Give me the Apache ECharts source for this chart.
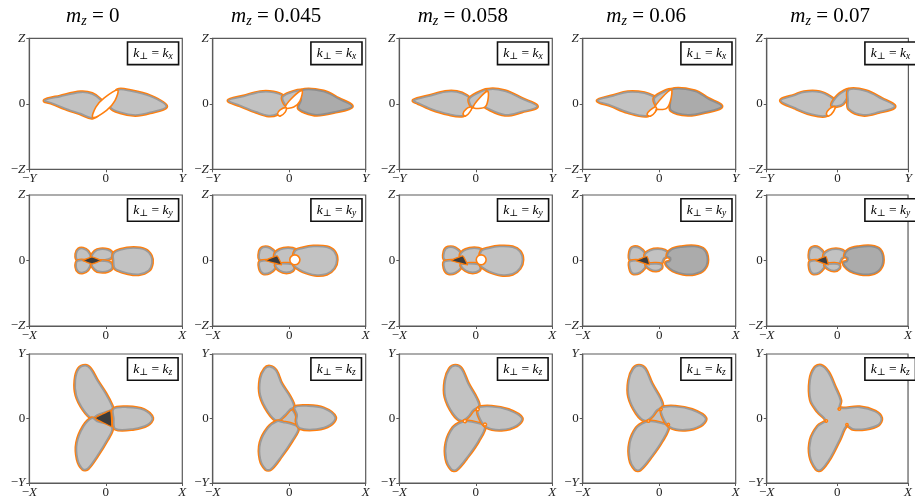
<!DOCTYPE html>
<html><head><meta charset="utf-8">
<script src="https://cdn.jsdelivr.net/npm/echarts@6/dist/echarts.min.js"></script>
<style>html,body{margin:0;padding:0;background:#fff}#chart{width:915px;height:499px}</style>
</head><body><div id="chart"></div>
<script>
// Column headers (m_z values) and axis tick labels per row
const mzValues = ['0', '0.045', '0.058', '0.06', '0.07'];
const kperp = ['x', 'y', 'z'];
const xTickLabels = [['−Y', '0', 'Y'], ['−X', '0', 'X'], ['−X', '0', 'X']];
const yTickLabels = [['−Z', '0', 'Z'], ['−Z', '0', 'Z'], ['−Y', '0', 'Y']];

// Regions in normalised axis units: [kind, outline points]
// kinds: lobe (light gray), deep (darker gray), hole (empty), dark (nearly black)
const kx_0 = [
  ['lobe', [[-0.80,0.05],[-0.60,0.11],[-0.33,0.175],[-0.18,0.15],[-0.07,0.06],[-0.02,-0.04],[-0.17,-0.21],[-0.33,-0.15],[-0.53,-0.07],[-0.70,0.01]]],
  ['lobe', [[0.155,0.21],[0.32,0.195],[0.58,0.115],[0.79,-0.04],[0.58,-0.13],[0.385,-0.17],[0.19,-0.13],[0.06,-0.05],[0.10,0.08]]],
  ['hole', [[-0.17,-0.21],[-0.13,-0.05],[-0.02,0.09],[0.155,0.21],[0.12,0.05],[0.01,-0.10]]]
];
const kx_045 = [
  ['lobe', [[-0.793,0.051],[-0.597,0.112],[-0.379,0.178],[-0.205,0.173],[-0.074,0.112],[-0.022,0],[-0.039,-0.051],[-0.153,-0.153],[-0.27,-0.178],[-0.423,-0.127],[-0.641,-0.025]]],
  ['lobe', [[-0.08,0.11],[0.166,0.20],[-0.03,-0.02]]],
  ['deep', [[0.166,0.204],[0.449,0.188],[0.645,0.076],[0.819,-0.041],[0.58,-0.127],[0.362,-0.168],[0.209,-0.127],[0.122,-0.061],[0.157,0.051]]],
  ['hole', [[-0.05,-0.06],[0.03,0.08],[0.166,0.20],[0.14,0.04],[0.06,-0.05]]],
  ['hole', [[-0.153,-0.153],[-0.118,-0.092],[-0.039,-0.061],[-0.052,-0.127],[-0.118,-0.188]]]
];
const kx_058 = [
  ['lobe', [[-0.813,0.05],[-0.60,0.12],[-0.40,0.18],[-0.25,0.18],[-0.12,0.12],[-0.04,0.02],[-0.07,-0.07],[-0.167,-0.178],[-0.365,-0.153],[-0.585,-0.076],[-0.76,0.015]]],
  ['lobe', [[-0.08,0.08],[0.163,0.214],[-0.04,-0.04]]],
  ['lobe', [[0.163,0.214],[0.382,0.193],[0.602,0.076],[0.80,-0.041],[0.602,-0.117],[0.382,-0.168],[0.141,-0.061],[0.119,-0.025],[0.141,0.102]]],
  ['hole', [[-0.035,-0.051],[0.154,0.193],[0.127,-0.041]]],
  ['hole', [[-0.167,-0.153],[-0.123,-0.076],[-0.057,-0.051],[-0.079,-0.127],[-0.136,-0.188]]]
];
const kx_06 = [
  ['lobe', [[-0.805,0.05],[-0.60,0.12],[-0.411,0.178],[-0.193,0.163],[-0.061,0.102],[0.004,0.05],[-0.018,-0.041],[-0.149,-0.178],[-0.411,-0.127],[-0.63,-0.025]]],
  ['lobe', [[-0.06,0.09],[0.158,0.214],[-0.02,-0.03]]],
  ['deep', [[0.158,0.214],[0.464,0.193],[0.639,0.076],[0.814,-0.041],[0.595,-0.127],[0.376,-0.168],[0.158,-0.102],[0.149,0.051]]],
  ['hole', [[-0.06,-0.061],[0.158,0.214],[0.105,-0.061]]],
  ['hole', [[-0.158,-0.163],[-0.114,-0.092],[-0.039,-0.051],[-0.053,-0.127],[-0.114,-0.188]]]
];
const kx_07 = [
  ['lobe', [[-0.80,0.05],[-0.60,0.13],[-0.473,0.178],[-0.254,0.178],[-0.101,0.102],[-0.035,0.025],[-0.079,-0.041],[-0.158,-0.178],[-0.385,-0.153],[-0.604,-0.061]]],
  ['lobe', [[-0.079,-0.025],[0.009,0.127],[0.162,0.214],[0.074,0]]],
  ['lobe', [[0.162,0.214],[0.403,0.193],[0.621,0.076],[0.805,-0.041],[0.578,-0.127],[0.359,-0.168],[0.162,-0.076],[0.149,0.05]]],
  ['hole', [[-0.158,-0.153],[-0.114,-0.076],[-0.035,-0.041],[-0.057,-0.117],[-0.123,-0.188]]]
];

const ky_0 = [
  ['lobe', [[-0.368,0.01],[-0.386,0.10],[-0.355,0.17],[-0.298,0.18],[-0.237,0.14],[-0.203,0.05],[-0.237,0.01]]],
  ['lobe', [[-0.181,0.05],[-0.137,0.14],[-0.072,0.17],[0.024,0.16],[0.081,0.11],[0.059,0.035],[-0.028,0.01],[-0.115,0.01]]],
  ['lobe', [[-0.368,-0.01],[-0.386,-0.10],[-0.355,-0.17],[-0.298,-0.18],[-0.237,-0.14],[-0.203,-0.05],[-0.237,-0.01]]],
  ['lobe', [[-0.181,-0.05],[-0.137,-0.14],[-0.072,-0.17],[0.024,-0.16],[0.081,-0.11],[0.059,-0.035],[-0.028,-0.01],[-0.115,-0.01]]],
  ['lobe', [[0.102,0.10],[0.19,0.16],[0.364,0.19],[0.516,0.16],[0.59,0.07],[0.603,-0.04],[0.56,-0.15],[0.43,-0.21],[0.277,-0.19],[0.146,-0.14],[0.111,-0.10],[0.102,0]]],
  ['dark', [[-0.30,0],[-0.181,0.055],[-0.06,0],[-0.181,-0.05]]]
];
const ky_045 = [
  ['lobe', [[-0.376,0.01],[-0.385,0.137],[-0.341,0.198],[-0.254,0.187],[-0.175,0.101],[-0.158,0.02]]],
  ['lobe', [[-0.188,0.086],[-0.123,0.162],[-0.013,0.187],[0.088,0.162],[0.14,0.086],[0.074,0.01],[0.009,-0.051],[-0.079,-0.041],[-0.158,-0.015]]],
  ['lobe', [[-0.376,-0.015],[-0.385,-0.117],[-0.341,-0.193],[-0.254,-0.182],[-0.175,-0.101],[-0.158,-0.03]]],
  ['lobe', [[-0.175,-0.066],[-0.123,-0.152],[-0.035,-0.182],[0.044,-0.152],[0.061,-0.081],[-0.013,-0.051]]],
  ['lobe', [[0.074,0.137],[0.184,0.187],[0.315,0.213],[0.49,0.203],[0.586,0.137],[0.621,0.01],[0.586,-0.117],[0.49,-0.203],[0.337,-0.218],[0.184,-0.167],[0.088,-0.101],[0.061,-0.066]]],
  ['hole', [[0.14,0.01],[0.12,0.064],[0.074,0.086],[0.027,0.064],[0.008,0.01],[0.027,-0.044],[0.074,-0.066],[0.12,-0.044]]],
  ['dark', [[-0.306,0],[-0.158,0.071],[-0.101,-0.066]]]
];
const ky_058 = [
  ['lobe', [[-0.40,0.01],[-0.41,0.137],[-0.36,0.198],[-0.27,0.187],[-0.19,0.101],[-0.17,0.02]]],
  ['lobe', [[-0.20,0.086],[-0.13,0.162],[-0.02,0.187],[0.08,0.162],[0.13,0.086],[0.07,0.01],[0.005,-0.051],[-0.085,-0.041],[-0.17,-0.015]]],
  ['lobe', [[-0.40,-0.015],[-0.41,-0.117],[-0.36,-0.193],[-0.27,-0.182],[-0.19,-0.101],[-0.17,-0.03]]],
  ['lobe', [[-0.19,-0.066],[-0.13,-0.152],[-0.04,-0.182],[0.04,-0.152],[0.055,-0.081],[-0.02,-0.051]]],
  ['lobe', [[0.07,0.137],[0.18,0.187],[0.31,0.213],[0.48,0.203],[0.575,0.137],[0.61,0.01],[0.575,-0.117],[0.48,-0.203],[0.33,-0.218],[0.18,-0.167],[0.085,-0.101],[0.06,-0.066]]],
  ['hole', [[0.135,0.01],[0.115,0.064],[0.07,0.086],[0.025,0.064],[0.006,0.01],[0.025,-0.044],[0.07,-0.066],[0.115,-0.044]]],
  ['dark', [[-0.32,0],[-0.17,0.071],[-0.11,-0.066]]]
];
const ky_06 = [
  ['lobe', [[-0.376,0.01],[-0.381,0.137],[-0.346,0.198],[-0.258,0.187],[-0.184,0.101],[-0.158,0.02]]],
  ['lobe', [[-0.184,0.086],[-0.114,0.152],[-0.018,0.172],[0.07,0.152],[0.123,0.086],[0.061,0.035],[0.026,-0.041],[-0.061,-0.051],[-0.158,-0.015]]],
  ['lobe', [[-0.376,-0.015],[-0.381,-0.117],[-0.346,-0.193],[-0.258,-0.182],[-0.184,-0.101],[-0.158,-0.03]]],
  ['lobe', [[-0.171,-0.066],[-0.114,-0.132],[-0.039,-0.152],[0.026,-0.117],[0.026,-0.066],[-0.039,-0.051]]],
  ['deep', [[0.105,0.071],[0.158,0.162],[0.289,0.203],[0.464,0.213],[0.586,0.162],[0.63,0.01],[0.586,-0.132],[0.464,-0.203],[0.311,-0.203],[0.179,-0.152],[0.105,-0.081],[0.092,-0.03],[0.136,-0.015],[0.149,0.04]]],
  ['dark', [[-0.302,0],[-0.158,0.061],[-0.127,-0.066]]]
];
const ky_07 = [
  ['lobe', [[-0.38,0.01],[-0.39,0.137],[-0.35,0.198],[-0.262,0.187],[-0.188,0.101],[-0.16,0.02]]],
  ['lobe', [[-0.188,0.086],[-0.118,0.152],[-0.02,0.172],[0.068,0.152],[0.12,0.086],[0.06,0.035],[0.024,-0.041],[-0.063,-0.051],[-0.16,-0.015]]],
  ['lobe', [[-0.38,-0.015],[-0.39,-0.117],[-0.35,-0.193],[-0.262,-0.182],[-0.188,-0.101],[-0.16,-0.03]]],
  ['lobe', [[-0.175,-0.066],[-0.118,-0.132],[-0.04,-0.152],[0.024,-0.117],[0.024,-0.066],[-0.04,-0.051]]],
  ['deep', [[0.105,0.071],[0.16,0.162],[0.3,0.203],[0.48,0.213],[0.6,0.162],[0.645,0.01],[0.6,-0.132],[0.48,-0.203],[0.32,-0.203],[0.18,-0.152],[0.105,-0.081],[0.092,-0.03],[0.136,-0.015],[0.149,0.04]]],
  ['dark', [[-0.305,0],[-0.16,0.061],[-0.13,-0.066]]]
];

const kz_0 = [
  ['lobe', [[-0.179,0.005],[-0.289,0.132],[-0.385,0.361],[-0.398,0.59],[-0.354,0.768],[-0.267,0.819],[-0.201,0.768],[-0.114,0.59],[-0.004,0.387],[0.074,0.209],[0.083,0.148],[-0.114,0.056]]],
  ['lobe', [[-0.179,0.005],[-0.289,-0.122],[-0.376,-0.377],[-0.368,-0.631],[-0.298,-0.784],[-0.236,-0.774],[-0.114,-0.58],[0.018,-0.326],[0.083,-0.163],[0.039,-0.097],[-0.114,-0.046]]],
  ['lobe', [[0.105,0.148],[0.28,0.173],[0.499,0.132],[0.608,0.005],[0.543,-0.097],[0.368,-0.158],[0.127,-0.158],[0.105,0.005]]],
  ['dark', [[-0.136,0.005],[0.061,0.122],[0.074,-0.122]]]
];
const kz_045 = [
  ['lobe', [[-0.123,-0.01],[0.031,0.132],[0.096,-0.097]]],
  ['lobe', [[-0.158,-0.031],[-0.276,0.107],[-0.376,0.361],[-0.376,0.616],[-0.319,0.768],[-0.254,0.804],[-0.175,0.743],[-0.101,0.539],[0.009,0.336],[0.061,0.183],[0.009,0.142],[-0.057,0.056]]],
  ['lobe', [[-0.158,-0.046],[-0.276,-0.148],[-0.376,-0.377],[-0.376,-0.631],[-0.306,-0.784],[-0.241,-0.784],[-0.101,-0.58],[0.031,-0.351],[0.118,-0.148],[0.009,-0.081],[-0.079,-0.061]]],
  ['lobe', [[0.074,0.173],[0.228,0.193],[0.446,0.158],[0.6,0.02],[0.534,-0.097],[0.359,-0.163],[0.14,-0.148],[0.096,-0.046],[0.105,0.056]]]
];
const kz_058 = [
  ['lobe', [[-0.144,-0.02],[0.022,0.142],[0.118,-0.097]]],
  ['lobe', [[-0.188,-0.031],[-0.298,0.081],[-0.398,0.336],[-0.398,0.59],[-0.341,0.768],[-0.267,0.819],[-0.188,0.768],[-0.101,0.539],[0.009,0.31],[0.039,0.193],[-0.035,0.132],[-0.101,0.031]]],
  ['lobe', [[-0.188,-0.061],[-0.298,-0.148],[-0.385,-0.377],[-0.385,-0.631],[-0.319,-0.784],[-0.254,-0.794],[-0.101,-0.58],[0.031,-0.351],[0.118,-0.122],[0.009,-0.071],[-0.101,-0.046]]],
  ['lobe', [[0.031,0.158],[0.206,0.183],[0.425,0.132],[0.6,0.005],[0.534,-0.107],[0.337,-0.173],[0.14,-0.132],[0.053,0.005]]],
  ['hole', [[0.005,0.14],[0.022,0.168],[0.045,0.148],[0.028,0.118]]],
  ['hole', [[-0.165,-0.04],[-0.145,-0.015],[-0.12,-0.035],[-0.14,-0.065]]],
  ['hole', [[0.10,-0.09],[0.12,-0.07],[0.14,-0.095],[0.12,-0.12]]]
];
const kz_06 = [
  ['lobe', [[-0.14,-0.02],[0.02,0.142],[0.115,-0.097]]],
  ['lobe', [[-0.185,-0.031],[-0.295,0.081],[-0.395,0.336],[-0.395,0.59],[-0.338,0.768],[-0.264,0.819],[-0.185,0.768],[-0.098,0.539],[0.012,0.31],[0.04,0.193],[-0.032,0.132],[-0.098,0.031]]],
  ['lobe', [[-0.185,-0.061],[-0.295,-0.148],[-0.382,-0.377],[-0.382,-0.631],[-0.316,-0.784],[-0.251,-0.794],[-0.098,-0.58],[0.034,-0.351],[0.12,-0.122],[0.012,-0.071],[-0.098,-0.046]]],
  ['lobe', [[0.034,0.158],[0.21,0.183],[0.43,0.132],[0.605,0.005],[0.54,-0.107],[0.34,-0.173],[0.143,-0.132],[0.056,0.005]]],
  ['hole', [[0.008,0.142],[0.022,0.162],[0.04,0.148],[0.026,0.125]]],
  ['hole', [[-0.16,-0.04],[-0.145,-0.02],[-0.125,-0.035],[-0.14,-0.058]]],
  ['hole', [[0.105,-0.09],[0.12,-0.075],[0.135,-0.095],[0.12,-0.113]]]
];
const kz_07 = [
  ['lobe', [[-0.232,0.819],[-0.319,0.784],[-0.385,0.59],[-0.376,0.285],[-0.276,0.107],[-0.166,-0.03],[-0.276,-0.122],[-0.376,-0.326],[-0.385,-0.58],[-0.298,-0.784],[-0.232,-0.794],[-0.101,-0.606],[0.031,-0.326],[0.131,-0.112],[0.228,-0.163],[0.403,-0.158],[0.578,-0.097],[0.621,0.005],[0.534,0.107],[0.315,0.173],[0.031,0.163],[0.044,0.275],[-0.035,0.489],[-0.131,0.718]]],
  ['hole', [[0.01,0.145],[0.025,0.165],[0.045,0.15],[0.03,0.128]]],
  ['hole', [[-0.175,-0.04],[-0.16,-0.02],[-0.14,-0.035],[-0.155,-0.058]]],
  ['hole', [[0.12,-0.095],[0.135,-0.078],[0.152,-0.098],[0.137,-0.117]]]
];

const panelRegions = [
  [kx_0, kx_045, kx_058, kx_06, kx_07],
  [ky_0, ky_045, ky_058, ky_06, ky_07],
  [kz_0, kz_045, kz_058, kz_06, kz_07]
];

// Layout of the 3 x 5 panel grid (pixels)
const colLeft = [29.3, 212.7, 399.3, 582.7, 766.7];
const rowTop = [38.3, 195, 354];
const PW = 153, PH = 131;

const SERIF = 'Liberation Serif, DejaVu Serif, serif';
const ORANGE = '#ff7f0e';
const STYLE = {
  lobe: { halo: true, fill: '#c2c2c2', stroke: '#9a9a9a', lw: 1.6 },
  deep: { halo: true, fill: '#ababab', stroke: '#8e8e8e', lw: 1.6 },
  hole: { halo: false, fill: '#ffffff', stroke: ORANGE, lw: 1.6 },
  dark: { halo: false, fill: '#3d3d3d', stroke: ORANGE, lw: 1.3 }
};

const tickRich = {
  i: { fontFamily: SERIF, fontStyle: 'italic', fontSize: 13, color: '#222' },
  t: { fontFamily: SERIF, fontSize: 13, color: '#222' }
};
function tickText(s) {
  if (s === '0') return '{t|0}';
  if (s[0] === '−') return '{t|−}{i|' + s.slice(1) + '}';
  return '{i|' + s + '}';
}

const grids = [], xAxes = [], yAxes = [], series = [], graphics = [];
for (let r = 0; r < 3; r++) {
  for (let c = 0; c < 5; c++) {
    const idx = r * 5 + c;
    grids.push({ left: colLeft[c], top: rowTop[r], width: PW, height: PH,
      show: true, borderColor: '#5a5a5a', borderWidth: 1.2, backgroundColor: 'transparent' });
    const axisCommon = {
      gridIndex: idx, type: 'value', min: -1, max: 1, interval: 1,
      axisLine: { show: true, onZero: false, lineStyle: { color: '#5a5a5a', width: 1.2 } },
      axisTick: { show: true, length: 3, lineStyle: { color: '#5a5a5a', width: 1 } },
      splitLine: { show: false }
    };
    const xl = xTickLabels[r], yl = yTickLabels[r];
    xAxes.push(Object.assign({}, axisCommon, {
      axisLabel: { margin: 3, showMinLabel: true, showMaxLabel: true, rich: tickRich,
        formatter: v => tickText(xl[Math.round(v) + 1]) }
    }));
    yAxes.push(Object.assign({}, axisCommon, {
      axisLabel: { margin: 4, showMinLabel: true, showMaxLabel: true, rich: tickRich,
        formatter: v => tickText(yl[Math.round(v) + 1]) }
    }));
    const regions = panelRegions[r][c];
    series.push({
      type: 'custom', coordinateSystem: 'cartesian2d', xAxisIndex: idx, yAxisIndex: idx,
      silent: true, animation: false,
      data: regions.map((reg, i) => [reg[1][0][0], reg[1][0][1], i]),
      renderItem: (params, api) => {
        const reg = regions[params.dataIndex];
        const kind = reg[0];
        const points = reg[1].map(p => api.coord(p));
        const st = STYLE[kind];
        const sm = kind === 'dark' ? 0.1 : 0.35;
        const children = [];
        if (st.halo) children.push({ type: 'polygon', shape: { points, smooth: sm },
          style: { fill: null, stroke: ORANGE, lineWidth: 4, lineJoin: 'round' } });
        children.push({ type: 'polygon', shape: { points, smooth: sm },
          style: { fill: st.fill, stroke: st.stroke, lineWidth: st.lw, lineJoin: 'round' } });
        return { type: 'group', children };
      }
    });
    // k_perp label box in the panel's upper-right corner
    graphics.push({
      type: 'text', x: colLeft[c] + 99, y: rowTop[r] + 4.5, z: 100,
      style: {
        text: '{k|k}{s|⊥}{e| = }{k|k}{s|' + kperp[r] + '}',
        rich: {
          k: { fontFamily: SERIF, fontStyle: 'italic', fontSize: 13.5, lineHeight: 17, color: '#222' },
          s: { fontFamily: SERIF, fontStyle: 'italic', fontSize: 9.5, lineHeight: 11, verticalAlign: 'bottom', color: '#222' },
          e: { fontFamily: SERIF, fontSize: 13.5, lineHeight: 17, color: '#222' }
        },
        padding: [2, 5, 2, 5], borderColor: '#111', borderWidth: 1.6, backgroundColor: '#fff'
      }
    });
  }
}
// Column headers
for (let c = 0; c < 5; c++) {
  graphics.push({
    type: 'text', x: colLeft[c] + PW / 2 - 13, y: 16, z: 100,
    style: {
      text: '{m|m}{z|z}{e| = ' + mzValues[c] + '}',
      align: 'center', verticalAlign: 'middle',
      rich: {
        m: { fontFamily: SERIF, fontStyle: 'italic', fontSize: 21, lineHeight: 24, color: '#111' },
        z: { fontFamily: SERIF, fontStyle: 'italic', fontSize: 14, lineHeight: 14, verticalAlign: 'bottom', color: '#111' },
        e: { fontFamily: SERIF, fontSize: 21, lineHeight: 24, color: '#111' }
      }
    }
  });
}

const chart = echarts.init(document.getElementById('chart'), null, { renderer: 'canvas' });
chart.setOption({
  animation: false,
  backgroundColor: '#fff',
  grid: grids, xAxis: xAxes, yAxis: yAxes, series: series, graphic: graphics
});
</script></body></html>
